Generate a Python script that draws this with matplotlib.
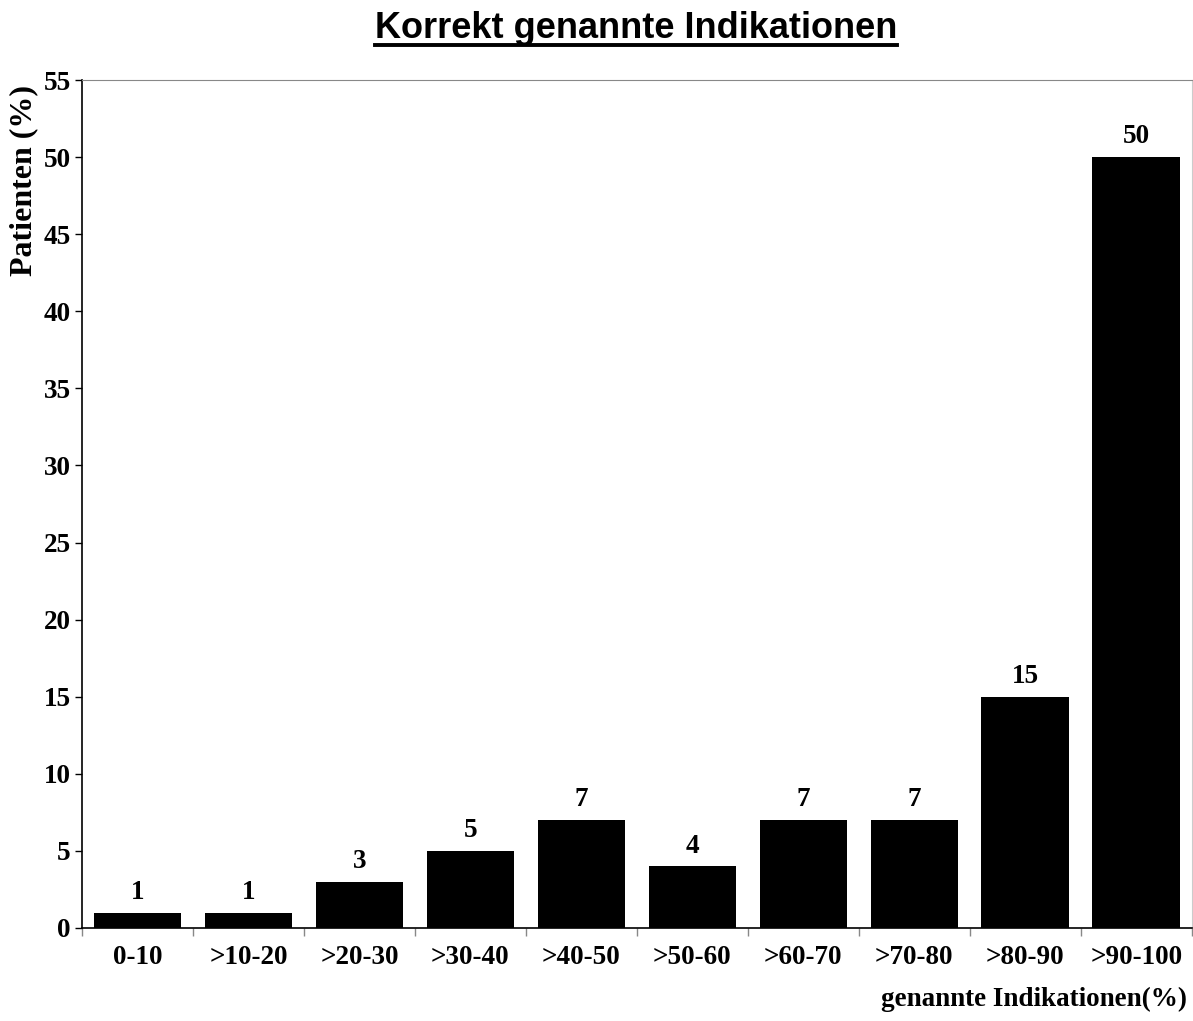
import matplotlib.pyplot as plt
import numpy as np
from matplotlib.lines import Line2D

categories = ['0-10', '>10-20', '>20-30', '>30-40', '>40-50', '>50-60',
              '>60-70', '>70-80', '>80-90', '>90-100']
patients = [1, 1, 3, 5, 7, 4, 7, 7, 15, 50]
yticks = [0, 5, 10, 15, 20, 25, 30, 35, 40, 45, 50, 55]

serif = 'Liberation Serif'
fs = 19.5

fig = plt.figure(figsize=(11.93, 10.21), dpi=100)
ax = fig.add_axes([0.0687, 0.0911, 0.9303, 0.8305])

x = np.arange(len(categories))
ax.bar(x, patients, width=0.79, color='black')
for xi, v in zip(x, patients):
    ax.text(xi, v + 0.5, str(v), ha='center', va='bottom', fontsize=fs,
            fontweight='bold', family=serif)

ax.set_xlim(-0.5, len(categories) - 0.5)
ax.set_ylim(0, 55)
ax.set_yticks(yticks)
ax.set_yticklabels([str(t) for t in yticks], fontsize=fs, fontweight='bold', family=serif)
ax.tick_params(axis='y', length=5, width=1, pad=3)

# category labels in the middle, tick marks on the boundaries
ax.set_xticks(np.arange(len(categories) + 1) - 0.5)
ax.set_xticklabels([])
ax.tick_params(axis='x', length=6, width=1, color='#888888')
ax.set_xticks(x, minor=True)
ax.set_xticklabels(categories, minor=True, fontsize=fs, fontweight='bold', family=serif)
ax.tick_params(axis='x', which='minor', length=0, pad=12)

ax.spines['top'].set_color('#888888')
ax.spines['right'].set_color('#cccccc')
ax.spines['left'].set_linewidth(1.2)
ax.spines['bottom'].set_linewidth(1.2)

fig.text(0.995, 0.021, 'genannte Indikationen(%)', ha='right', va='center',
         fontsize=fs, fontweight='bold', family=serif)
fig.text(0.0195, 0.823, 'Patienten (%)', rotation=90, ha='center', va='center',
         fontsize=23, fontweight='bold', family=serif)

title = fig.text(0.533, 0.972, 'Korrekt genannte Indikationen', ha='center', va='center',
                 fontsize=26, fontweight='bold', family='Liberation Sans')

# underline the title
fig.canvas.draw()
bb = title.get_window_extent().transformed(fig.transFigure.inverted())
uy = bb.y0 + 0.001
fig.add_artist(Line2D([bb.x0, bb.x1], [uy, uy], transform=fig.transFigure,
                      color='black', linewidth=2.8))

fig.savefig('out.png', dpi=100)
